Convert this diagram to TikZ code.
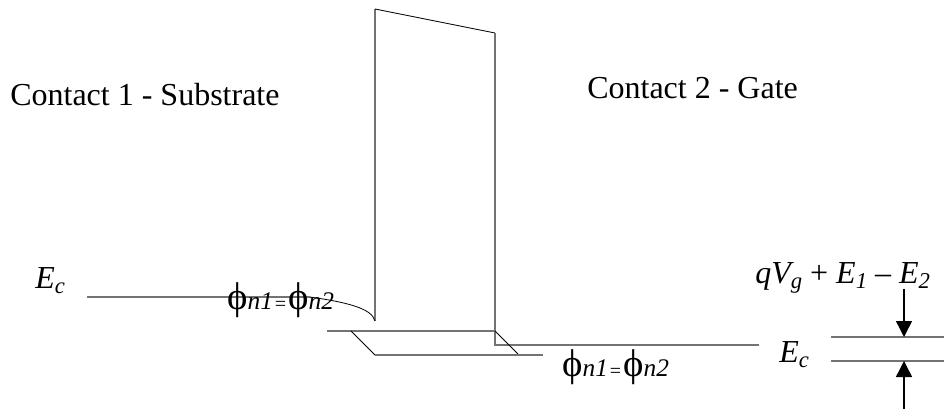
\documentclass[tikz,border=0pt]{standalone}
\usepackage{fontspec}
\setmainfont{Liberation Serif}
\usetikzlibrary{arrows.meta}
\tikzset{
  band/.style={draw=black!55, line width=0.8pt},
  thin line/.style={draw=black, line width=0.6pt},
  lbl/.style={inner sep=0pt, anchor=base west, font=\fontsize{24}{26}\selectfont},
  arrowline/.style={draw=black, line width=1.1pt, -{Triangle[length=12pt,width=12pt]}},
}
\newcommand{\smallsub}[1]{\raisebox{-4pt}{\fontsize{17}{18}\selectfont #1}}
\newcommand{\phisub}[2]{\fontsize{29}{30}\selectfont ϕ\fontsize{19}{20}\selectfont\itshape #1\kern1.5pt\raisebox{-0.8pt}{\upshape\fontsize{15}{16}\selectfont =}\kern1.5pt\fontsize{29}{30}\selectfont\upshape ϕ\fontsize{19}{20}\selectfont\itshape #2}
\begin{document}
\begin{tikzpicture}[x=0.75pt,y=-0.75pt]
\useasboundingbox (0,0) rectangle (944,410);
% coordinates
\coordinate (tl) at (375,9);
\coordinate (tr) at (495,33);
\coordinate (bl) at (375,321);
\coordinate (br) at (495,345);
\coordinate (rend) at (759,345);
\coordinate (ls) at (87,297);
\coordinate (lm) at (310,297);
\coordinate (wl) at (327,331);
\coordinate (wa) at (351,331);
\coordinate (wr) at (495,331);
\coordinate (dl) at (375,355);
\coordinate (dr) at (519,355);
\coordinate (dend) at (543,355);
\coordinate (u1) at (831,337);
\coordinate (u2) at (944,337);
\coordinate (v1) at (831,361);
\coordinate (v2) at (944,361);
\coordinate (a1) at (904,289);
\coordinate (a1e) at (904,337);
\coordinate (a2) at (904,409);
\coordinate (a2e) at (904,361);
% bands
\draw[band] (bl) -- (tl);
\draw[thin line] (tl) -- (tr);
\draw[band] (tr) -- (br) -- (rend);
\draw[band] (ls) -- (lm);
\draw[thin line] (lm) .. controls (345,302) and (372,308) .. (bl);
\draw[band] (wl) -- (wr);
\draw[thin line] (wa) -- (dl);
\draw[thin line] (wr) -- (dr);
\draw[band] (dl) -- (dend);
\draw[band] (u1) -- (u2);
\draw[band] (v1) -- (v2);
\draw[arrowline] (a1) -- (a1e);
\draw[arrowline] (a2) -- (a2e);
% labels
\node[lbl] (c1) at (10,105) {Contact 1 - Substrate};
\node[lbl] (c2) at (587,98) {Contact 2 - Gate};
\node[lbl] (ec1) at (35,288) {\itshape E\smallsub{c}};
\node[lbl] (ec2) at (779,362) {\itshape E\smallsub{c}};
\node[lbl] (q) at (755,283) {\itshape qV\smallsub{g}\upshape\ +\ \itshape E\smallsub{1}\upshape\ –\ \itshape E\smallsub{2}};
\node[lbl] (p1) at (227,309) {\phisub{n1}{n2}};
\node[lbl] (p2) at (562,376) {\phisub{n1}{n2}};
\end{tikzpicture}
\end{document}
